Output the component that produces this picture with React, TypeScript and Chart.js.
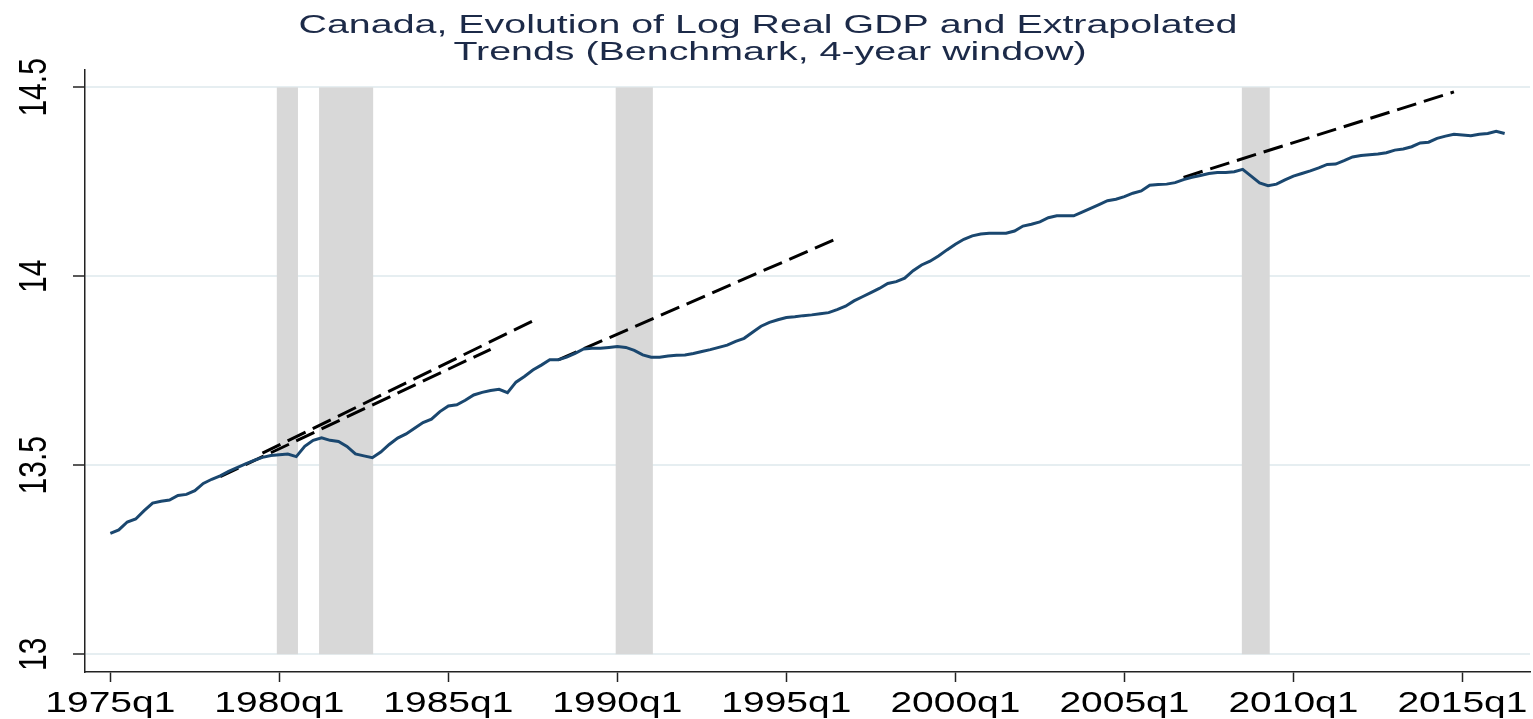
import React, { useEffect, useRef } from "react";
import { Chart, registerables } from "chart.js";

Chart.register(...registerables);

const titleLines = [
  "Canada, Evolution of Log Real GDP and Extrapolated",
  "Trends (Benchmark, 4-year window)",
];

const startYear = 1975;

// Log real GDP, quarterly from 1975q1 to 2016q2
const logGdp = [
  13.320, 13.329, 13.350, 13.358, 13.380, 13.400, 13.405, 13.408, 13.420, 13.423,
  13.433, 13.452, 13.463, 13.472, 13.484, 13.494, 13.504, 13.513, 13.521, 13.526,
  13.528, 13.530, 13.523, 13.550, 13.566, 13.573, 13.566, 13.563, 13.550, 13.530,
  13.525, 13.520, 13.535, 13.555, 13.572, 13.583, 13.598, 13.613, 13.622, 13.642,
  13.657, 13.660, 13.672, 13.686, 13.693, 13.698, 13.701, 13.692, 13.720, 13.735,
  13.752, 13.765, 13.779, 13.779, 13.786, 13.796, 13.808, 13.810, 13.810, 13.812,
  13.814, 13.812, 13.804, 13.792, 13.786, 13.786, 13.789, 13.791, 13.792, 13.796,
  13.801, 13.806, 13.812, 13.818, 13.828, 13.836, 13.852, 13.868, 13.878, 13.885,
  13.891, 13.893, 13.896, 13.898, 13.901, 13.904, 13.912, 13.921, 13.935, 13.946,
  13.957, 13.968, 13.981, 13.986, 13.995, 14.015, 14.030, 14.040, 14.054, 14.070,
  14.085, 14.098, 14.107, 14.112, 14.114, 14.114, 14.114, 14.120, 14.133, 14.138,
  14.144, 14.155, 14.160, 14.160, 14.160, 14.170, 14.180, 14.190, 14.200, 14.204,
  14.211, 14.220, 14.226, 14.241, 14.243, 14.244, 14.248, 14.256, 14.262, 14.267,
  14.272, 14.275, 14.275, 14.277, 14.283, 14.265, 14.247, 14.240, 14.244, 14.255,
  14.265, 14.272, 14.279, 14.287, 14.296, 14.297, 14.306, 14.316, 14.320, 14.322,
  14.324, 14.327, 14.334, 14.337, 14.343, 14.353, 14.355, 14.365, 14.371, 14.376,
  14.374, 14.372, 14.376, 14.378, 14.384, 14.378,
];

// Extrapolated trends (quarter index from 1975q1, value)
const trendStartIdx = [13, 18, 53, 127];
const trendEndIdx = [45, 50, 86, 159];
const trendStartVal = [13.47, 13.532, 13.779, 14.262];
const trendEndVal = [13.807, 13.882, 14.1, 14.488];

// Recession shading (quarter index from 1975q1)
const recessionStart = [19.7, 24.7, 59.8, 133.9];
const recessionEnd = [22.2, 31.1, 64.2, 137.2];
const recessionLow = 13;
const recessionHigh = 14.5;

const xTickLabels = ["1975q1", "1980q1", "1985q1", "1990q1", "1995q1", "2000q1", "2005q1", "2010q1", "2015q1"];
const yTickValues = [13, 13.5, 14, 14.5];
const yTickLabels = ["13", "13.5", "14", "14.5"];

const quarterIndex = (label: string) => {
  const [y, q] = label.split("q");
  return (parseInt(y, 10) - startYear) * 4 + parseInt(q, 10) - 1;
};

const FONT = "'Liberation Sans', Arial, Helvetica, sans-serif";

const drawStretched = (
  ctx: CanvasRenderingContext2D,
  text: string,
  x: number,
  y: number,
  sx: number,
  rotate: number
) => {
  ctx.save();
  ctx.translate(x, y);
  ctx.scale(sx, 1);
  if (rotate) ctx.rotate(rotate);
  ctx.fillText(text, 0, 0);
  ctx.restore();
};

const customPlugin = {
  id: "customDecor",
  beforeDatasetsDraw(chart: any) {
    const { ctx, scales } = chart;
    const x = scales.x;
    const y = scales.y;
    const top = y.getPixelForValue(recessionHigh);
    const bot = y.getPixelForValue(recessionLow);
    ctx.save();
    ctx.fillStyle = "#d8d8d8";
    for (let i = 0; i < recessionStart.length; i++) {
      const x0 = x.getPixelForValue(recessionStart[i]);
      const x1 = x.getPixelForValue(recessionEnd[i]);
      ctx.fillRect(x0, top, x1 - x0, bot - top);
    }
    ctx.restore();
  },
  afterDraw(chart: any) {
    const { ctx, scales } = chart;
    const x = scales.x;
    const y = scales.y;
    ctx.save();
    // title
    ctx.fillStyle = "#1c2a48";
    ctx.font = `26px ${FONT}`;
    ctx.textAlign = "center";
    ctx.textBaseline = "alphabetic";
    const w1 = ctx.measureText(titleLines[0]).width;
    const tsx = 939 / w1;
    drawStretched(ctx, titleLines[0], 768, 33, tsx, 0);
    drawStretched(ctx, titleLines[1], 770, 60, tsx, 0);

    // tick labels
    ctx.fillStyle = "#000";
    ctx.font = `30px ${FONT}`;
    const lw = ctx.measureText("1975q1").width;
    const sx = 130 / lw;
    for (const lab of xTickLabels) {
      const px = x.getPixelForValue(quarterIndex(lab));
      drawStretched(ctx, lab, px, 712, sx, 0);
    }
    for (let i = 0; i < yTickValues.length; i++) {
      const py = y.getPixelForValue(yTickValues[i]);
      drawStretched(ctx, yTickLabels[i], 46, py, sx, -Math.PI / 2);
    }
    ctx.restore();
  },
};

export default function App() {
  const ref = useRef<HTMLCanvasElement | null>(null);

  useEffect(() => {
    if (!ref.current) return;
    const gdpData = logGdp.map((v, i) => ({ x: i, y: v }));
    const trendSets = trendStartIdx.map((s, k) => ({
      label: `trend${k + 1}`,
      data: [
        { x: s, y: trendStartVal[k] },
        { x: trendEndIdx[k], y: trendEndVal[k] },
      ],
      borderColor: "#000000",
      borderWidth: 3,
      borderDash: [20, 8],
      pointRadius: 0,
      fill: false,
      tension: 0,
    }));
    const chart = new Chart(ref.current, {
      type: "line",
      data: {
        datasets: [
          {
            label: "Log real GDP",
            data: gdpData,
            borderColor: "#1a476f",
            borderWidth: 3,
            pointRadius: 0,
            fill: false,
            tension: 0,
          },
          ...trendSets,
        ],
      },
      options: {
        animation: false,
        responsive: false,
        parsing: true,
        layout: { padding: { top: 70, right: 3, left: 0, bottom: 0 } },
        plugins: {
          legend: { display: false },
          title: { display: false },
          tooltip: { enabled: false },
        },
        scales: {
          x: {
            type: "linear",
            min: -3,
            max: 168,
            afterBuildTicks: (scale: any) => {
              scale.ticks = xTickLabels.map((l) => ({ value: quarterIndex(l) }));
            },
            afterFit: (scale: any) => {
              scale.height = 47;
            },
            ticks: { display: false },
            grid: {
              drawOnChartArea: false,
              drawTicks: true,
              tickLength: 10,
              tickColor: "#222222",
              tickWidth: 1.5,
            },
            border: { display: true, color: "#222222", width: 1.5 },
          },
          y: {
            type: "linear",
            min: 12.953,
            max: 14.546,
            afterBuildTicks: (scale: any) => {
              scale.ticks = yTickValues.map((v) => ({ value: v }));
            },
            afterFit: (scale: any) => {
              scale.width = 85;
            },
            ticks: { display: false },
            grid: {
              drawOnChartArea: true,
              color: "#e6eef1",
              lineWidth: 2,
              drawTicks: true,
              tickLength: 12,
              tickColor: "#222222",
              tickWidth: 1.5,
            },
            border: { display: true, color: "#222222", width: 1.5 },
          },
        },
      },
      plugins: [customPlugin],
    } as any);
    return () => chart.destroy();
  }, []);

  return (
    <div style={{ position: "fixed", left: 0, top: 0, width: 1533, height: 719, background: "#fff" }}>
      <canvas ref={ref} width={1533} height={719} style={{ display: "block" }} />
    </div>
  );
}
